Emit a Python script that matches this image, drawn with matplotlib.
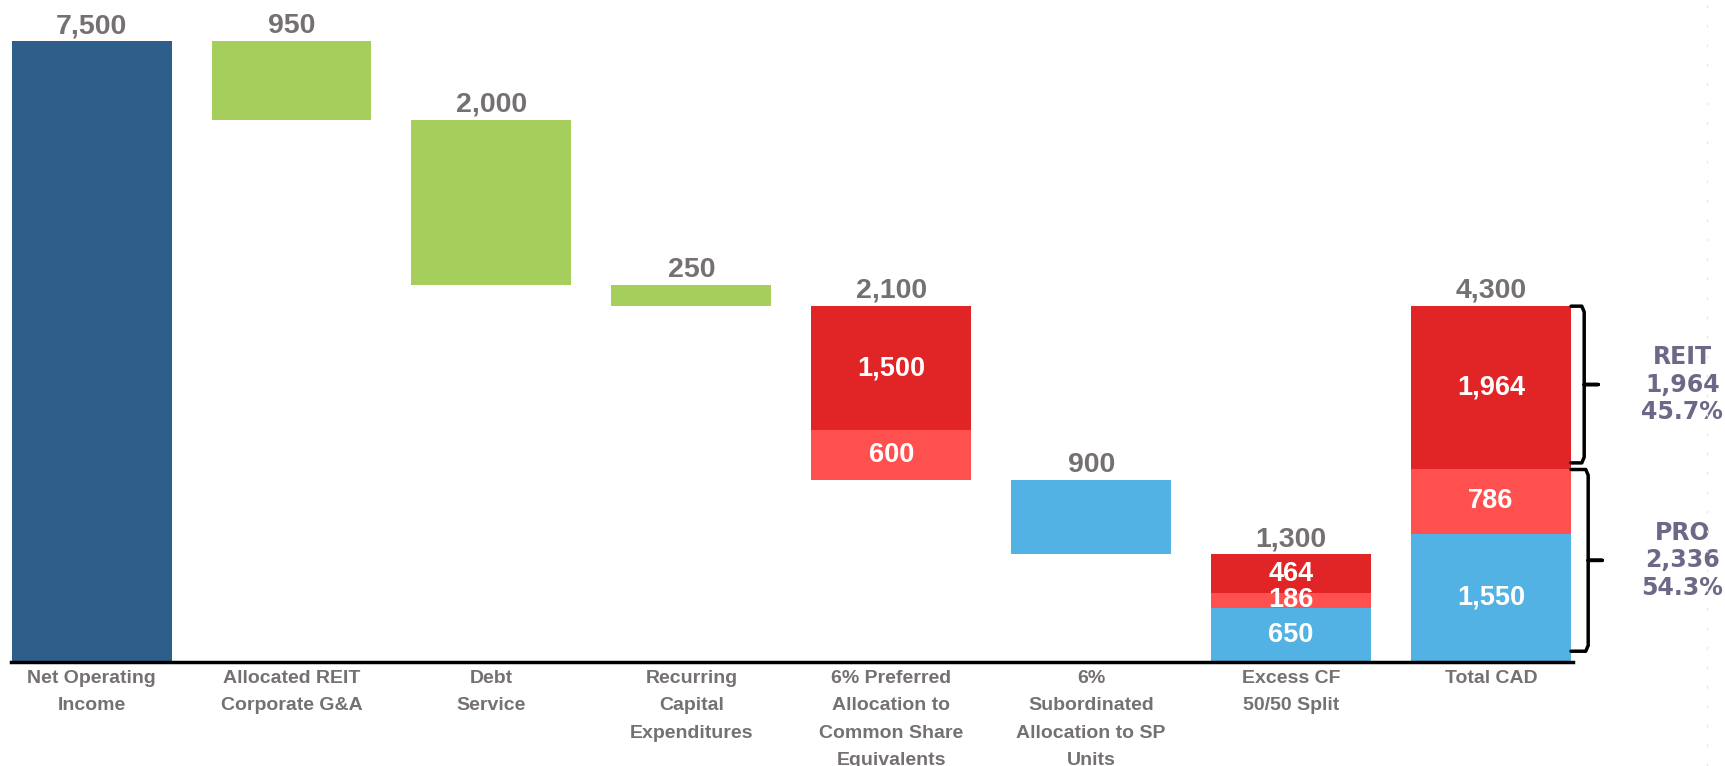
import matplotlib.pyplot as plt
from matplotlib.lines import Line2D

# cash flow waterfall: NOI down to total CAD, split between REIT and PRO
labels = ['Net Operating\nIncome', 'Allocated REIT\nCorporate G&A', 'Debt\nService',
          'Recurring\nCapital\nExpenditures',
          '6% Preferred\nAllocation to\nCommon Share\nEquivalents',
          '6%\nSubordinated\nAllocation to SP\nUnits',
          'Excess CF\n50/50 Split', 'Total CAD']
noi = 7500
expenses = [950, 2000, 250]        # G&A, debt service, capex
reit_split = [1500, 464]           # preferred, excess
pro_pref_split = [600, 186]        # preferred, excess
pro_sub_split = [900, 650]         # subordinated, excess

NAVY = '#2E5F8A'
GREEN = '#A5CE5C'
RED = '#E12426'
PINK = '#FF5050'
SKY = '#52B2E3'
GREY = '#767171'
PURPLE = '#6D6888'
FONT = ['Liberation Sans', 'DejaVu Sans']

# each column is a stack of (value, colour), top to bottom
columns = [[(noi, NAVY)]] + [[(v, GREEN)] for v in expenses] + [
    [(reit_split[0], RED), (pro_pref_split[0], PINK)],
    [(pro_sub_split[0], SKY)],
    [(reit_split[1], RED), (pro_pref_split[1], PINK), (pro_sub_split[1], SKY)],
    [(sum(reit_split), RED), (sum(pro_pref_split), PINK), (sum(pro_sub_split), SKY)],
]

fig = plt.figure(figsize=(17.25, 7.66), dpi=100)
ax = fig.add_axes([11 / 1725, 0.1358, 1562 / 1725, 0.8642])

level = 0
last = len(columns) - 1
for i, segs in enumerate(columns):
    total = sum(v for v, _ in segs)
    if i == 0:
        top = level = total
    elif i == last:
        top = total
    else:
        top = level
        level -= total
    y = top
    for v, c in segs:
        ax.bar(i, v, bottom=y - v, width=0.8, color=c, linewidth=0)
        if len(segs) > 1:
            ax.text(i, y - v / 2, f'{v:,}', ha='center', va='center', color='white',
                    fontsize=19.5, fontweight='bold', family=FONT)
        y -= v
    ax.annotate(f'{total:,}', (i, top), xytext=(0, 6), textcoords='offset points',
                ha='center', va='baseline', color=GREY, fontsize=20.5,
                fontweight='bold', family=FONT)


def brace(x, tip, y0, y1, x_start=7.4):
    ym = (y0 + y1) / 2
    r = 70
    xs = [x_start, x - 0.012, x, x, tip, x, x, x - 0.012, x_start]
    ys = [y1, y1, y1 - r, ym, ym, ym, y0 + r, y0, y0]
    ax.plot(xs, ys, color='black', lw=2.5, clip_on=False,
            solid_joinstyle='round', solid_capstyle='round')
    return ym


reit_total = sum(reit_split)
pro_total = sum(pro_pref_split) + sum(pro_sub_split)
grand = reit_total + pro_total

ym = brace(7.466, 7.536, pro_total + 70, grand)
ax.text(7.957, ym, f'REIT\n{reit_total:,}\n{reit_total / grand:.1%}', ha='center',
        va='center', color=PURPLE, fontsize=17, fontweight='bold',
        family='DejaVu Sans', clip_on=False)
ym = brace(7.486, 7.556, 130, pro_total - 10)
ax.text(7.957, ym, f'PRO\n{pro_total:,}\n{pro_total / grand:.1%}', ha='center',
        va='center', color=PURPLE, fontsize=17, fontweight='bold',
        family='DejaVu Sans', clip_on=False)

fig.add_artist(Line2D([1707 / 1725] * 2, [0, 1], transform=fig.transFigure,
                      color='#E8E8E8', lw=1, ls=(0, (2, 12))))

ax.set_xlim(-0.403, 7.41)
ax.set_ylim(0, 8000)
ax.set_xticks(range(len(labels)))
ax.set_xticklabels(labels, color=GREY, fontsize=14, fontweight='bold',
                   family=FONT, linespacing=1.78)
ax.tick_params(axis='x', length=0, pad=6)
ax.set_yticks([])
for side in ['top', 'left', 'right']:
    ax.spines[side].set_visible(False)
ax.spines['bottom'].set_linewidth(2.5)
ax.spines['bottom'].set_color('black')

fig.savefig('out.png', dpi=100)
